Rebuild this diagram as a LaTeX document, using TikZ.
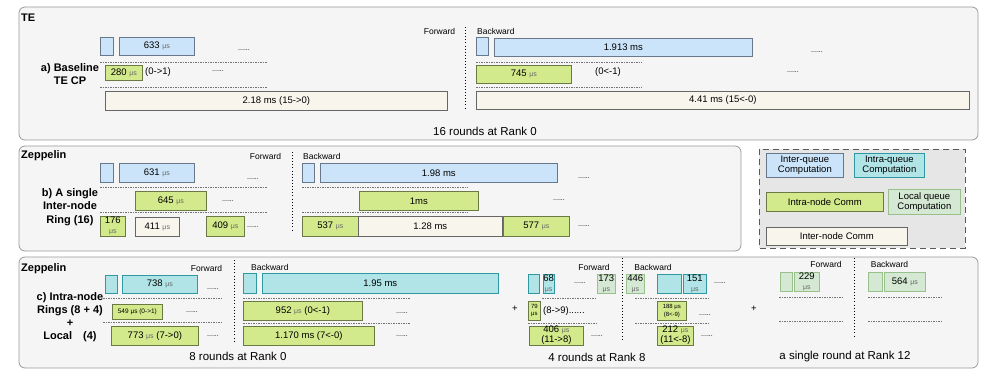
\documentclass[tikz,border=0pt]{standalone}
\usepackage{fontspec}
\setmainfont{Liberation Sans}
\definecolor{blueF}{HTML}{CCE4F9}
\definecolor{blueD}{HTML}{66788A}
\definecolor{tealF}{HTML}{B1E4E7}
\definecolor{tealD}{HTML}{2E99A2}
\definecolor{greenF}{HTML}{D3EA8C}
\definecolor{greenD}{HTML}{6B7A45}
\definecolor{lgreenF}{HTML}{D5E8D4}
\definecolor{lgreenD}{HTML}{97C08A}
\definecolor{creamF}{HTML}{F8F6EC}
\definecolor{creamD}{HTML}{666666}
\definecolor{panelF}{HTML}{F5F5F5}
\definecolor{panelD}{HTML}{9A9A9A}
\definecolor{legF}{HTML}{E6E6E6}
\newcommand\usec{{\fontsize{7}{8}\selectfont\color{black!60}μs}}
\newcommand\mkbox[7]{%
  \pgfmathsetmacro\bw{#5-#3}%
  \pgfmathsetmacro\bh{#6-#4}%
  \node[#2, anchor=north west, minimum width=\bw pt, minimum height=\bh pt] (#1) at (#3,#4) {#7};}
\tikzset{
  bxs/.style={draw, line width=0.7pt, inner sep=0pt, align=center, font=\fontsize{9.5}{11}\selectfont, text=black},
  qblue/.style={bxs, fill=blueF, draw=blueD},
  qteal/.style={bxs, fill=tealF, draw=tealD},
  qgreen/.style={bxs, fill=greenF, draw=greenD},
  qlgreen/.style={bxs, fill=lgreenF, draw=lgreenD},
  qcream/.style={bxs, fill=creamF, draw=creamD},
  sep/.style={draw=black!55, line width=0.5pt, dash pattern=on 1.5pt off 1pt},
  vdot/.style={draw=black, line width=0.9pt, dash pattern=on 0.9pt off 2.2pt},
  panel/.style={draw=panelD, fill=panelF, line width=0.8pt, rounded corners=6pt},
  ttl/.style={font=\bfseries\fontsize{11}{13}\selectfont, anchor=west, inner sep=0pt},
  lbl/.style={font=\bfseries\fontsize{11}{13}\selectfont, align=center, inner sep=0pt},
  dir/.style={font=\fontsize{8.5}{10}\selectfont, inner sep=0pt},
  dts/.style={font=\fontsize{7}{8}\selectfont, inner sep=0pt},
  txt/.style={font=\fontsize{9.5}{11}\selectfont, inner sep=0pt},
  rnd/.style={font=\fontsize{11.5}{13}\selectfont, inner sep=0pt},
  smallt/.style={font=\fontsize{6.5}{7.5}\selectfont},
}
\begin{document}
\begin{tikzpicture}[x=1pt,y=-1pt]
\useasboundingbox (0,0) rectangle (996,377);

% ================= Panel a (TE) =================
\path[panel] (19,7) rectangle (978,140);
\node[ttl] (teT) at (21,18) {TE};
\node[lbl] (aL) at (70,74.5) {a) Baseline\\TE CP};
\node[dir] (aF) at (439.5,31) {Forward};
\node[dir, anchor=west] (aB) at (477,31) {Backward};
\draw[vdot] (465,27) -- (465,108);
% forward
\mkbox{a1}{qblue}{100}{37}{113}{55}{}
\mkbox{a2}{qblue}{119}{37}{194}{55}{633 \usec}
\node[dts] (ad1) at (244,50) {......};
\draw[sep] (100,62) -- (267,62);
\mkbox{a3}{qgreen}{105}{65}{142}{80}{280 \usec}
\node[txt] (at1) at (158,72) {(0->1)};
\node[dts] (ad2) at (218,71) {......};
\draw[sep] (100,87) -- (267,87);
\mkbox{a4}{qcream}{105}{91}{447}{110}{2.18 ms (15->0)}
% backward
\mkbox{a5}{qblue}{476}{37}{488}{55}{}
\mkbox{a6}{qblue}{494}{38}{752}{56}{1.913 ms}
\node[dts] (ad3) at (817,52) {......};
\draw[sep] (476,62) -- (642,62);
\mkbox{a7}{qgreen}{476}{65}{571}{83}{745 \usec}
\node[txt] (at2) at (608,72) {(0<-1)};
\node[dts] (ad4) at (793,72) {......};
\draw[sep] (476,87) -- (642,87);
\mkbox{a8}{qcream}{476}{91}{969}{109}{4.41 ms (15<-0)}
\node[rnd] (aR) at (485,131) {16 rounds at Rank 0};

% ================= Panel b (Zeppelin single ring) =================
\path[panel] (19,146) rectangle (741,251);
\node[ttl] (zbT) at (21,156) {Zeppelin};
\node[lbl] (bL) at (70,207) {b) A single\\[0.5pt]Inter-node\\[0.5pt]Ring (16)};
\node[dir] (bF) at (265.5,156) {Forward};
\node[dir, anchor=west] (bB) at (303,156) {Backward};
\draw[vdot] (292,152) -- (292,232);
\mkbox{b1}{qblue}{100}{163}{113}{182}{}
\mkbox{b2}{qblue}{119}{163}{194}{182}{631 \usec}
\node[dts] (bd1) at (253,179) {......};
\mkbox{b3}{qblue}{302}{163}{314}{182}{}
\mkbox{b4}{qblue}{320}{163}{557}{182}{1.98 ms}
\node[dts] (bd2) at (584,178) {......};
\draw[sep] (100,187) -- (267,187);
\draw[sep] (302,187) -- (468,187);
\mkbox{b5}{qgreen}{135}{191}{206}{210}{645 \usec}
\node[dts] (bd3) at (228,201) {......};
\mkbox{b6}{qgreen}{359}{191}{478}{210}{1ms}
\node[dts] (bd4) at (559,200) {......};
\draw[sep] (100,212) -- (267,212);
\draw[sep] (302,212) -- (468,212);
\mkbox{b7}{qgreen}{100}{216}{125}{236}{176\\[-1pt]\usec}
\mkbox{b8}{qcream}{135}{217}{179}{236}{411 \usec}
\mkbox{b9}{qgreen}{206}{216}{244}{236}{409 \usec}
\node[dts] (bd5) at (253,227) {......};
\mkbox{b10}{qgreen}{302}{216}{358}{236}{537 \usec}
\mkbox{b11}{qcream}{358}{216}{502}{236}{1.28 ms}
\mkbox{b12}{qgreen}{503}{216}{569}{236}{577 \usec}
\node[dts] (bd6) at (584,226) {......};

% ================= Legend =================
\path[fill=legF, draw=black!65, line width=0.9pt, dash pattern=on 6pt off 4pt] (759,149) rectangle (965,248);
\mkbox{l1}{qblue, font=\fontsize{9.5}{10.5}\selectfont}{766}{153}{843}{177}{Inter-queue\\Computation}
\mkbox{l2}{qteal, font=\fontsize{9.5}{10.5}\selectfont}{854}{153}{924}{177}{Intra-queue\\Computation}
\mkbox{l3}{qgreen}{766}{192}{883}{211}{Intra-node Comm}
\mkbox{l4}{qlgreen, font=\fontsize{9.5}{10.5}\selectfont}{888}{189}{960}{214}{Local queue\\Computation}
\mkbox{l5}{qcream}{766}{227}{907}{245}{Inter-node Comm}

% ================= Panel c (Zeppelin intra-node rings) =================
\path[panel] (19,257) rectangle (978,368);
\node[ttl] (zcT) at (21,269) {Zeppelin};
\node[lbl] (cL) at (70,317.5) {c) Intra-node\\Rings (8 + 4)\\+\\Local\hspace{11pt}(4)};
% rank 0 forward
\node[dir] (cF) at (206.5,268) {Forward};
\draw[vdot] (234,260) -- (234,342);
\mkbox{c1}{qteal}{105}{275}{117}{293}{}
\mkbox{c2}{qteal}{122}{275}{197}{293}{738 \usec}
\node[dts] (cd1) at (213,289) {......};
\draw[sep] (103,298) -- (222,298);
\mkbox{c3}{qgreen, smallt}{112}{304}{162}{319}{549 μs (0->1)}
\node[dts] (cd2) at (192,312) {......};
\draw[sep] (103,322) -- (222,322);
\mkbox{c4}{qgreen}{111}{326}{198}{345}{773 \usec{} (7->0)}
\node[dts] (cd3) at (213,336) {......};
% rank 0 backward
\node[dir, anchor=west] (cB) at (251,267) {Backward};
\mkbox{c5}{qteal}{243}{273}{256}{293}{}
\mkbox{c6}{qteal}{262}{273}{498}{293}{1.95 ms}
\draw[sep] (243,298) -- (410,298);
\mkbox{c7}{qgreen}{243}{301}{362}{320}{952 \usec{} (0<-1)}
\node[dts] (cd4) at (402,313) {......};
\draw[sep] (243,323) -- (410,323);
\mkbox{c8}{qgreen}{243}{326}{374}{345}{1.170 ms (7<-0)}
\node[dts] (cd5) at (402,336) {......};
\node[rnd] (cR1) at (238,356) {8 rounds at Rank 0};
\node[txt] (cP1) at (515,309) {+};
% rank 8
\node[dir] (dF) at (594,267) {Forward};
\node[dir] (dB) at (653,267) {Backward};
\draw[vdot] (622,258) -- (622,340);
\mkbox{d1}{qteal}{528}{274}{539}{293}{}
\mkbox{d2}{qteal}{543}{274}{553}{293}{68\\[-1pt]\usec}
\node[dts] (dd1) at (580,283) {......};
\mkbox{d3}{qlgreen}{597}{274}{615}{293}{173\\[-1pt]\usec}
\mkbox{d4}{qlgreen}{626}{274}{644}{293}{446\\[-1pt]\usec}
\mkbox{d5}{qteal}{657}{274}{681}{293}{}
\mkbox{d6}{qteal}{683}{274}{706}{293}{151\\[-1pt]\usec}
\node[dts] (dd2) at (720,283) {......};
\draw[sep] (542,298) -- (597,298);
\draw[sep] (635,298) -- (708,298);
\mkbox{d7}{qgreen, font=\fontsize{6}{7}\selectfont}{528}{301}{540}{320}{79\\μs}
\node[txt, anchor=west] (dt1) at (543,311) {(8->9)......};
\mkbox{d8}{qgreen, font=\fontsize{6}{7.5}\selectfont}{657}{301}{686}{320}{188 μs\\(8<-9)}
\node[dts] (dd3) at (705,315) {......};
\draw[sep] (528,323) -- (597,323);
\draw[sep] (635,323) -- (708,323);
\mkbox{d9}{qgreen}{529}{326}{583}{344}{406 \usec\\[-1pt](11->8)}
\node[dts] (dd4) at (597,336) {......};
\mkbox{d10}{qgreen}{657}{326}{693}{344}{212 \usec\\[-1pt](11<-8)}
\node[dts] (dd5) at (707,336) {......};
\node[rnd] (dR) at (597,357) {4 rounds at Rank 8};
\node[txt] (cP2) at (754,309) {+};
% rank 12
\node[dir] (eF) at (826,264) {Forward};
\node[dir] (eB) at (889.5,264) {Backward};
\draw[vdot] (854,258) -- (854,338);
\mkbox{e1}{qlgreen}{780}{272}{792}{291}{}
\mkbox{e2}{qlgreen}{794}{272}{819}{291}{229\\[-1pt]\usec}
\mkbox{e3}{qlgreen}{868}{272}{882}{291}{}
\mkbox{e4}{qlgreen}{884}{272}{925}{291}{564 \usec}
\draw[sep] (779,297) -- (843,297);
\draw[sep] (868,297) -- (942,297);
\draw[sep] (779,321) -- (843,321);
\draw[sep] (868,321) -- (942,321);
\node[rnd] (eR) at (845,357) {a single round at Rank 12};
\end{tikzpicture}
\end{document}
